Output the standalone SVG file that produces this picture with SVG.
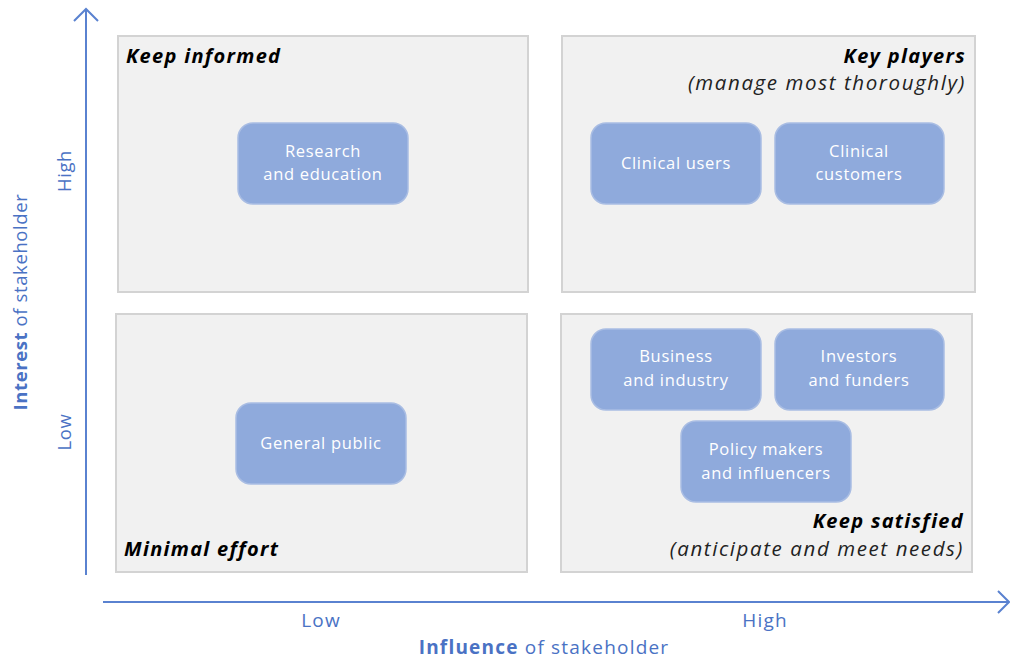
<svg xmlns="http://www.w3.org/2000/svg" width="1010" height="661" viewBox="0 0 1010 661">
<style>
.quad{fill:#f1f1f1;stroke:#d3d3d3;stroke-width:2}
.node{fill:#8faadc;stroke:#a9bde3;stroke-width:1.5}
.nt{font-family:"Open Sans","Liberation Sans",sans-serif;font-size:16.5px;letter-spacing:0.7px;fill:#ffffff;text-anchor:middle}
.qt{font-family:"Open Sans","Liberation Sans",sans-serif;font-size:20px;letter-spacing:1.3px;font-weight:bold;font-style:italic;fill:#000}
.qs{font-family:"Open Sans","Liberation Sans",sans-serif;font-size:20.5px;letter-spacing:1.6px;font-style:italic;fill:#222}
.ax{font-family:"Open Sans","Liberation Sans",sans-serif;font-size:19px;letter-spacing:1.2px;fill:#4a72c4}
.axv{font-family:"Open Sans","Liberation Sans",sans-serif;font-size:18.5px;letter-spacing:0.6px;fill:#4a72c4}
.axis{stroke:#5a82d0;stroke-width:2;fill:none}
</style>
<rect width="1010" height="661" fill="#ffffff"/>
<g id="quadrants">
<rect class="quad" x="118" y="36" width="410" height="256"/>
<rect class="quad" x="562" y="36" width="413" height="256"/>
<rect class="quad" x="116" y="314" width="411" height="258"/>
<rect class="quad" x="561" y="314" width="411" height="258"/>
<text class="qt" x="126" y="63">Keep informed</text>
<text class="qt" x="966" y="63" text-anchor="end">Key players</text>
<text class="qs" x="966" y="90" text-anchor="end">(manage most thoroughly)</text>
<text class="qt" x="124" y="556">Minimal effort</text>
<text class="qt" x="964" y="528" text-anchor="end">Keep satisfied</text>
<text class="qs" x="964" y="556" text-anchor="end">(anticipate and meet needs)</text>
</g>
<g id="connectors">
<path class="axis" d="M86 575 V10 M74 21 L86 9 L98 21"/>
<path class="axis" d="M103 602 H1008 M998 591 L1009 602 L998 613"/>
</g>
<g id="axis-labels">
<text class="axv" transform="translate(71 171) rotate(-90)" text-anchor="middle">High</text>
<text class="axv" transform="translate(71 432) rotate(-90)" text-anchor="middle">Low</text>
<text class="axv" transform="translate(27 302) rotate(-90)" text-anchor="middle"><tspan font-weight="bold">Interest</tspan> of stakeholder</text>
<text class="ax" x="321" y="627" text-anchor="middle">Low</text>
<text class="ax" x="765" y="627" text-anchor="middle">High</text>
<text class="ax" x="544" y="654" text-anchor="middle"><tspan font-weight="bold">Influence</tspan> of stakeholder</text>
</g>
<g id="node-research">
<rect class="node" x="238" y="123" width="170" height="81" rx="15"/>
<text class="nt" x="323" y="157">Research</text>
<text class="nt" x="323" y="180">and education</text>
</g>
<g id="node-clinical-users">
<rect class="node" x="591" y="123" width="170" height="81" rx="15"/>
<text class="nt" x="676" y="169">Clinical users</text>
</g>
<g id="node-clinical-customers">
<rect class="node" x="775" y="123" width="169" height="81" rx="15"/>
<text class="nt" x="859" y="157">Clinical</text>
<text class="nt" x="859" y="180">customers</text>
</g>
<g id="node-general-public">
<rect class="node" x="236" y="403" width="170" height="81" rx="15"/>
<text class="nt" x="321" y="449">General public</text>
</g>
<g id="node-business">
<rect class="node" x="591" y="329" width="170" height="81" rx="15"/>
<text class="nt" x="676" y="362">Business</text>
<text class="nt" x="676" y="386">and industry</text>
</g>
<g id="node-investors">
<rect class="node" x="775" y="329" width="169" height="81" rx="15"/>
<text class="nt" x="859" y="362">Investors</text>
<text class="nt" x="859" y="386">and funders</text>
</g>
<g id="node-policy">
<rect class="node" x="681" y="421" width="170" height="81" rx="15"/>
<text class="nt" x="766" y="455">Policy makers</text>
<text class="nt" x="766" y="479">and influencers</text>
</g>
</svg>
